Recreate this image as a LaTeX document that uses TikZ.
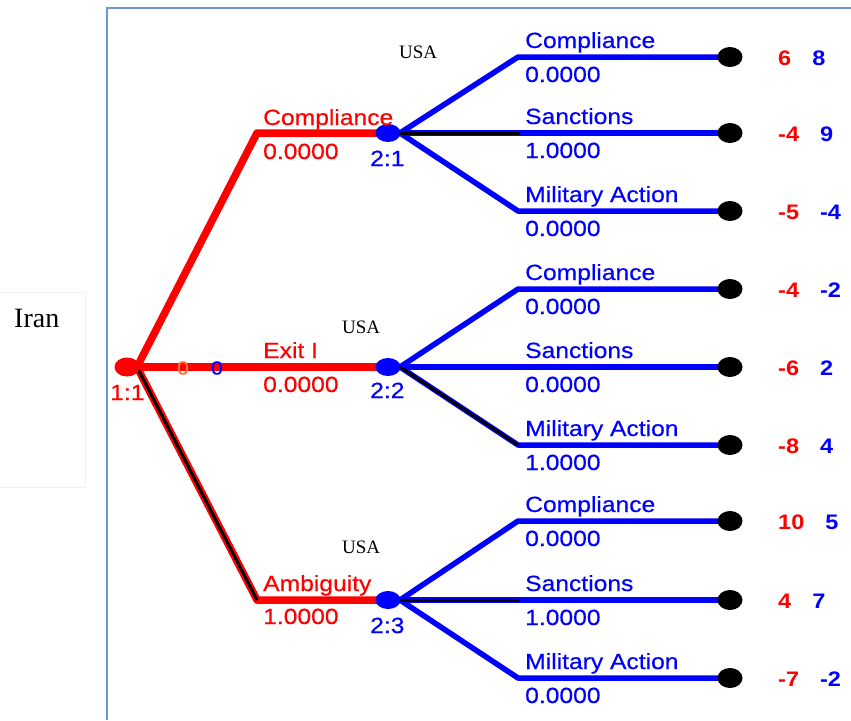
\documentclass[tikz,border=0pt]{standalone}
\usepackage{fontspec}
\usetikzlibrary{shapes.geometric,backgrounds}
\newfontfamily\arialx[FakeStretch=1.12,FakeBold=0.4]{Liberation Sans}
\newfontfamily\arialb[FakeStretch=1.12]{Liberation Sans}
\newfontfamily\serifx{Liberation Serif}
\definecolor{frameblue}{RGB}{110,150,210}
\definecolor{zeroorange}{RGB}{255,110,60}
\begin{document}
\begin{tikzpicture}[x=1pt,y=-1pt,
  iranl/.style={red,line width=7.5pt,line join=round},
  usal/.style={blue,line width=5.5pt,line join=round},
  chosen/.style={black,line width=3pt,line join=round},
  p1dot/.style={ellipse,fill=red,minimum width=25pt,minimum height=19pt,inner sep=0},
  p2dot/.style={ellipse,fill=blue,minimum width=25pt,minimum height=18pt,inner sep=0},
  term/.style={ellipse,fill=black,minimum width=25pt,minimum height=20pt,inner sep=0},
  lab/.style={font=\arialx\fontsize{22}{24}\selectfont,inner sep=0,anchor=base west},
  pay/.style={font=\arialb\bfseries\fontsize{21}{24}\selectfont,inner sep=0,anchor=base west},
  usa/.style={font=\serifx\fontsize{19}{22}\selectfont,inner sep=0,anchor=base west},
  small0/.style={font=\arialx\fontsize{19}{20}\selectfont,inner sep=0}]
\useasboundingbox (0,0) rectangle (851,720);
% frame
\draw[frameblue,line width=2pt] (107,720) -- (107,8) -- (851,8);
\draw[black!5,line width=1pt] (0,292) -- (85,292) -- (85,487) -- (0,487);
% nodes
\node[p1dot] (r) at (127,367) {};
\node[p2dot] (n1) at (388,133) {};
\node[p2dot] (n2) at (388,367) {};
\node[p2dot] (n3) at (388,600) {};
\foreach \i/\y in {1/57,2/133,3/211,4/289,5/367,6/445,7/521,8/600,9/678}
  \node[term] (t\i) at (730,\y) {};
% junctions and corners
\coordinate (rj) at (137,367);
\coordinate (ic) at (257,133);
\coordinate (ia) at (257,600);
\coordinate (j1) at (400,133);
\coordinate (j2) at (400,367);
\coordinate (j3) at (400,600);
\coordinate (c1u) at (518,57);  \coordinate (c1m) at (520,133); \coordinate (c1d) at (518,211);
\coordinate (c2u) at (518,289); \coordinate (c2d) at (518,445);
\coordinate (c3u) at (518,521); \coordinate (c3m) at (520,600); \coordinate (c3d) at (518,678);
\begin{scope}[on background layer]
\draw[iranl] (r.center) -- (rj) -- (ic) -- (n1.center);
\draw[iranl] (rj) -- (n2.center);
\draw[iranl] (rj) -- (ia) -- (n3.center);
\draw[chosen] (rj) -- (ia);
\draw[usal] (j1) -- (c1u) -- (t1.center);
\draw[usal] (j1) -- (t2.center);
\draw[usal] (j1) -- (c1d) -- (t3.center);
\draw[chosen] (j1) -- (c1m);
\draw[usal] (j2) -- (c2u) -- (t4.center);
\draw[usal] (j2) -- (t5.center);
\draw[usal] (j2) -- (c2d) -- (t6.center);
\draw[chosen] (j2) -- (c2d);
\draw[usal] (j3) -- (c3u) -- (t7.center);
\draw[usal] (j3) -- (t8.center);
\draw[usal] (j3) -- (c3d) -- (t9.center);
\draw[chosen] (j3) -- (c3m);
\draw[usal] (n1.center) -- (j1);
\draw[usal] (n2.center) -- (j2);
\draw[usal] (n3.center) -- (j3);
\end{scope}
% player labels
\node[lab,red] (l11) at (110,400) {1:1};
\node[lab,blue] (l21) at (370,166) {2:1};
\node[lab,blue] (l22) at (370,398) {2:2};
\node[lab,blue] (l23) at (370,633) {2:3};
\node[small0,text=zeroorange] (z1) at (183,368) {0};
\node[small0,text=blue] (z2) at (217,368) {0};
% Iran labels
\node[lab,red] (ia1) at (263,125) {Compliance};
\node[lab,red] (ib1) at (263,159) {0.0000};
\node[lab,red] (ia2) at (263,358) {Exit I};
\node[lab,red] (ib2) at (263,392) {0.0000};
\node[lab,red] (ia3) at (263,591) {Ambiguity};
\node[lab,red] (ib3) at (263,624) {1.0000};
% USA branch labels
\foreach \n/\y/\a/\p in {1/57/Compliance/0.0000,2/133/Sanctions/1.0000,3/211/Military Action/0.0000,
  4/289/Compliance/0.0000,5/367/Sanctions/0.0000,6/445/Military Action/1.0000,
  7/521/Compliance/0.0000,8/600/Sanctions/1.0000,9/678/Military Action/0.0000}{
  \node[lab,blue] (ua\n) at (525,\y-9) {\a};
  \node[lab,blue] (ub\n) at (525,\y+25) {\p};
}
% payoffs
\foreach \n/\y/\r/\b in {1/57/6/8,2/133/-4/9,3/211/-5/-4,4/289/-4/-2,5/367/-6/2,6/445/-8/4,7/521/10/5,8/600/4/7,9/678/-7/-2}{
  \node[pay] (pay\n) at (778,\y+8) {\textcolor{red}{\r}\hspace{21pt}\textcolor{blue}{\b}};
}
% player names
\node[usa] (usa1) at (399,58) {USA};
\node[usa] (usa2) at (342,333) {USA};
\node[usa] (usa3) at (342,553) {USA};
\node[usa,font=\serifx\fontsize{28}{30}\selectfont] (iran) at (14,327) {Iran};
\end{tikzpicture}
\end{document}
